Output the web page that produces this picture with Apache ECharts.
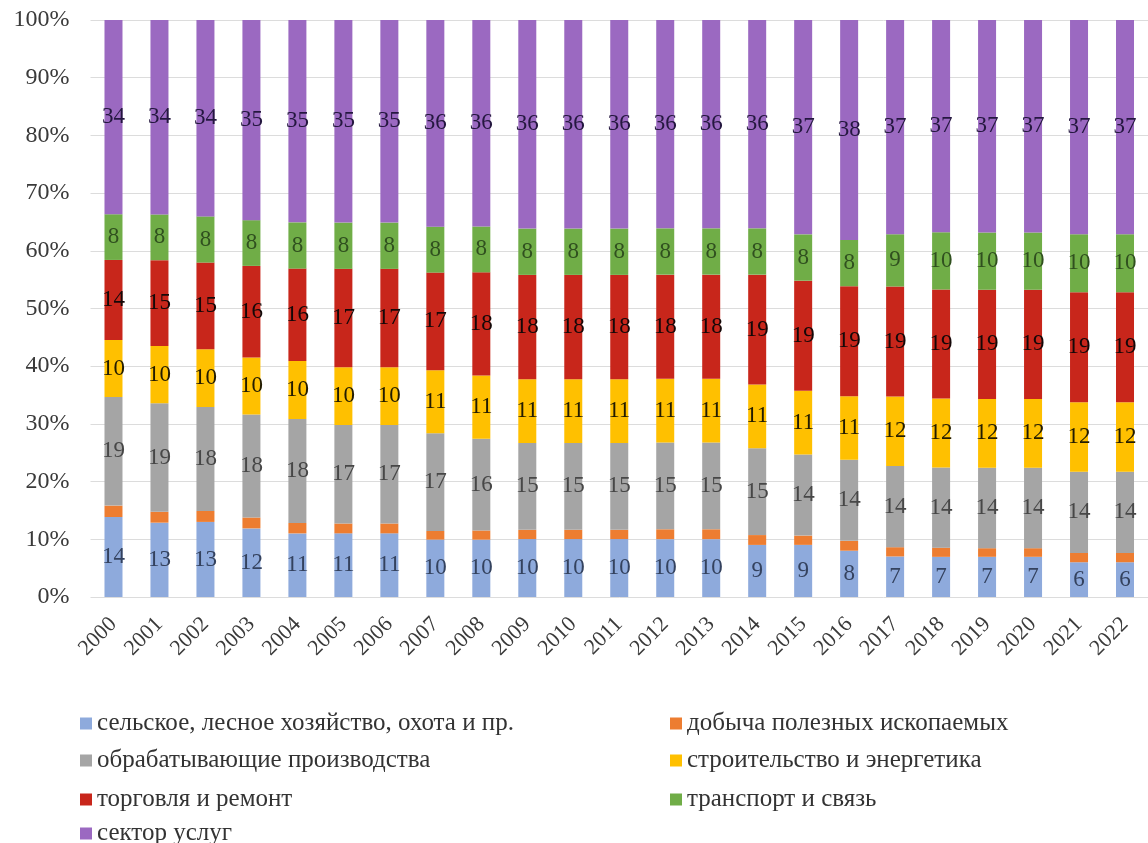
<!DOCTYPE html>
<html>
<head>
<meta charset="utf-8">
<script src="https://cdn.jsdelivr.net/npm/echarts@6/dist/echarts.min.js"></script>
<style>html,body{margin:0;padding:0;background:#fff}#c{width:1148px;height:843px}</style>
</head>
<body>
<div id="c"></div>
<script>
var years = ['2000','2001','2002','2003','2004','2005','2006','2007','2008','2009','2010','2011','2012','2013','2014','2015','2016','2017','2018','2019','2020','2021','2022'];
var seriesNames = ['сельское, лесное хозяйство, охота и пр.','добыча полезных ископаемых','обрабатывающие производства','строительство и энергетика','торговля и ремонт','транспорт и связь','сектор услуг'];
var agri   = [14,13,13,12,11,11,11,10,10,10,10,10,10,10,9,9,8,7,7,7,7,6,6];
var mining = [2.0,1.9,1.9,1.9,1.8,1.7,1.7,1.5,1.6,1.6,1.6,1.6,1.7,1.7,1.7,1.6,1.7,1.6,1.6,1.5,1.5,1.6,1.6];
var manuf  = [19,19,18,18,18,17,17,17,16,15,15,15,15,15,15,14,14,14,14,14,14,14,14];
var constr = [10,10,10,10,10,10,10,11,11,11,11,11,11,11,11,11,11,12,12,12,12,12,12];
var trade  = [14,15,15,16,16,17,17,17,18,18,18,18,18,18,19,19,19,19,19,19,19,19,19];
var transp = [8,8,8,8,8,8,8,8,8,8,8,8,8,8,8,8,8,9,10,10,10,10,10];
var serv   = [34,34,34,35,35,35,35,36,36,36,36,36,36,36,36,37,38,37,37,37,37,37,37];
var yTicks = ['0%','10%','20%','30%','40%','50%','60%','70%','80%','90%','100%'];

var raw = [agri, mining, manuf, constr, trade, transp, serv];
var colors = ['#8eaadc','#ed7d31','#a5a5a5','#ffc000','#c8261b','#70ad47','#9b69c1'];
var labelColors = ['#34425e','#000','#474747','#231c00','#140808','#30501f','#24173f'];

var totals = years.map(function(_, i){ var s = 0; raw.forEach(function(a){ s += a[i]; }); return s; });

var series = raw.map(function(arr, k){
  return {
    name: seriesNames[k],
    type: 'bar',
    stack: 'total',
    barWidth: 18,
    itemStyle: { color: colors[k] },
    label: {
      show: k !== 1,
      position: 'inside',
      fontFamily: 'Liberation Serif',
      fontSize: 23,
      color: labelColors[k],
      formatter: function(p){ return p.data.raw; }
    },
    data: arr.map(function(v, i){ return { value: v / totals[i] * 100, raw: v }; })
  };
});

// legend layout: [seriesIndex, left, top]
var legendPos = [[0, 75, 706], [2, 75, 743], [4, 75, 782], [6, 75, 816], [1, 665, 706], [3, 665, 743], [5, 665, 782]];
var legends = legendPos.map(function(p){
  return { left: p[1], top: p[2], itemWidth: 12, itemHeight: 12, itemGap: 0, icon: 'rect',
    textStyle: { fontFamily: 'Liberation Serif', fontSize: 25, color: '#333', padding: [0, 0, 0, 0] },
    data: [seriesNames[p[0]]] };
});

var chart = echarts.init(document.getElementById('c'));
chart.setOption({
  animation: false,
  grid: { left: 90.5, right: -9.7, top: 20, bottom: 246 },
  xAxis: {
    type: 'category',
    data: years,
    axisLine: { show: false },
    axisTick: { show: false },
    axisLabel: { rotate: 45, margin: 24, fontFamily: 'Liberation Serif', fontSize: 22, color: '#3a3a3a', interval: 0 }
  },
  yAxis: {
    type: 'value',
    min: 0, max: 100, interval: 10,
    axisLine: { show: false },
    axisTick: { show: false },
    splitLine: { lineStyle: { color: '#dcdcdc', width: 1 } },
    axisLabel: { margin: 21, fontFamily: 'Liberation Serif', fontSize: 24, color: '#3a3a3a',
      formatter: function(v){ return yTicks[Math.round(v / 10)]; } }
  },
  legend: legends,
  series: series
});
</script>
</body>
</html>
